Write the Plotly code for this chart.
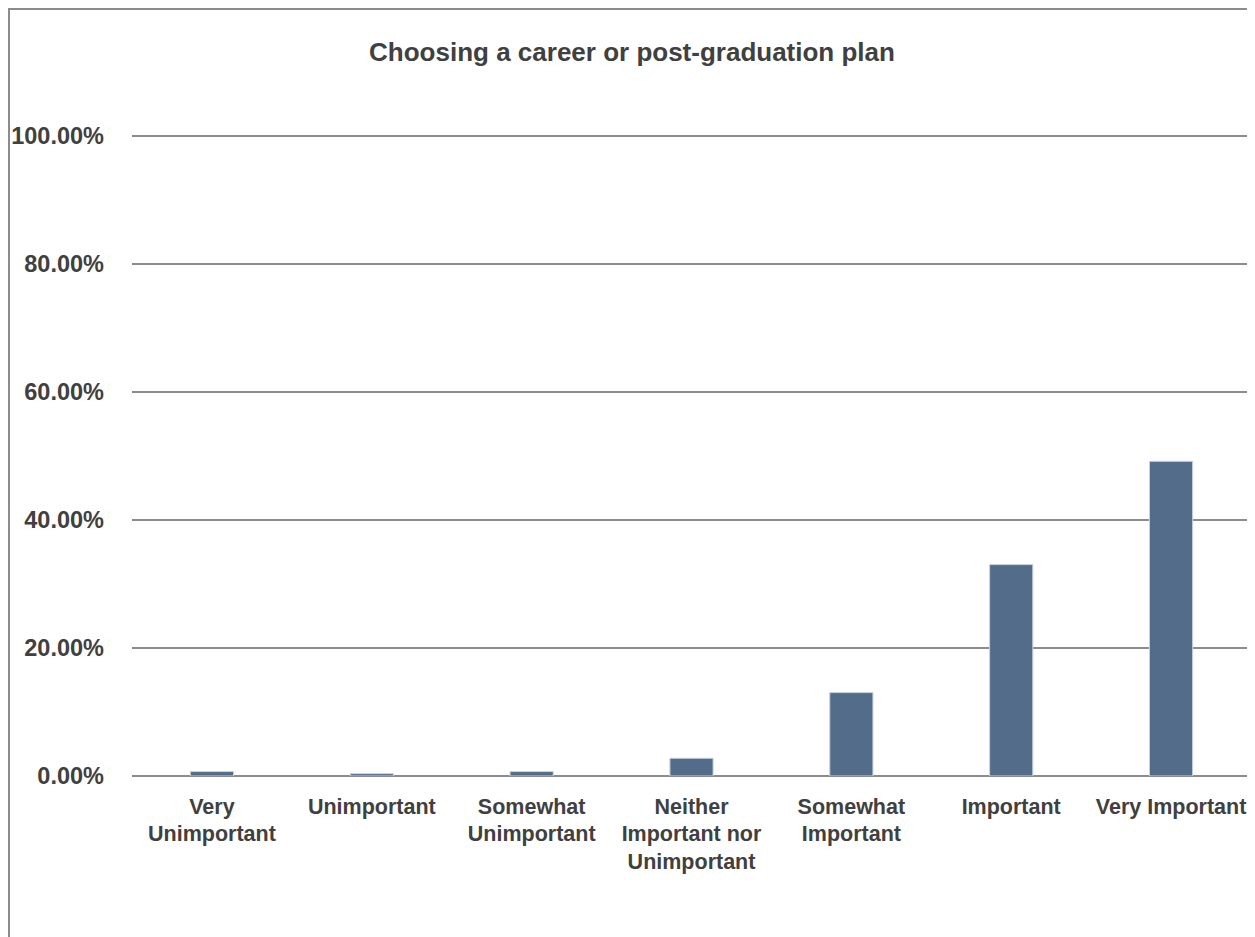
import plotly.graph_objects as go

categories = ["Very<br>Unimportant", "Unimportant", "Somewhat<br>Unimportant",
              "Neither<br>Important nor<br>Unimportant", "Somewhat<br>Important",
              "Important", "Very Important"]
values = [0.0069, 0.0037, 0.0069, 0.0277, 0.1303, 0.3303, 0.4917]
y_ticks = [0, 0.2, 0.4, 0.6, 0.8, 1.0]
title_text = "Choosing a career or post-graduation plan"

FONT = "Liberation Sans, Arial, sans-serif"
TXT = "#404040"
GRID = "#8c8c8c"

# page is offset by the 8px body margin; figure coordinates compensate
OFF = 8
W, H = 1255 - OFF, 937 - OFF
L, R, T, B = 132 - OFF, 4, 135 - OFF, 161
pw, ph = W - L - R, H - T - B

fig = go.Figure(go.Bar(
    x=categories, y=values,
    marker=dict(color="#536c8a", line=dict(color="#c8d2de", width=1)),
    width=0.27,
))

fig.update_layout(
    width=W, height=H,
    margin=dict(l=L, r=R, t=T, b=B, autoexpand=False),
    paper_bgcolor="white", plot_bgcolor="white",
    showlegend=False,
    font=dict(family=FONT, color=TXT, size=22),
    title=dict(text="<b>" + title_text + "</b>", x=(632 - OFF) / W, xref="container",
               xanchor="center", y=1 - (52 - OFF) / H, yref="container", yanchor="middle",
               font=dict(family=FONT, size=26, color=TXT)),
    xaxis=dict(showgrid=False, showline=False, zeroline=False, ticks="",
               tickfont=dict(family=FONT, size=21.5, color=TXT, weight="bold"),
               ticklabelstandoff=15),
    yaxis=dict(range=[0, 1.0016], tickvals=y_ticks, tickformat=".2%",
               showgrid=True, gridcolor=GRID, gridwidth=2,
               zeroline=True, zerolinecolor=GRID, zerolinewidth=2,
               showline=False, ticks="",
               tickfont=dict(family=FONT, size=23.5, color=TXT, weight="bold"),
               ticklabelstandoff=27),
)

def px_x(p):
    return (p - OFF - L) / pw

def px_y(p):
    return (H - B - (p - OFF)) / ph

# outer chart border (left, top, right visible)
fig.add_shape(type="rect", xref="paper", yref="paper",
              x0=px_x(9), x1=px_x(1253), y0=px_y(1100), y1=px_y(9),
              line=dict(color="#8c8c8c", width=2), fillcolor="rgba(0,0,0,0)",
              layer="below")

fig.write_html("out.html")
